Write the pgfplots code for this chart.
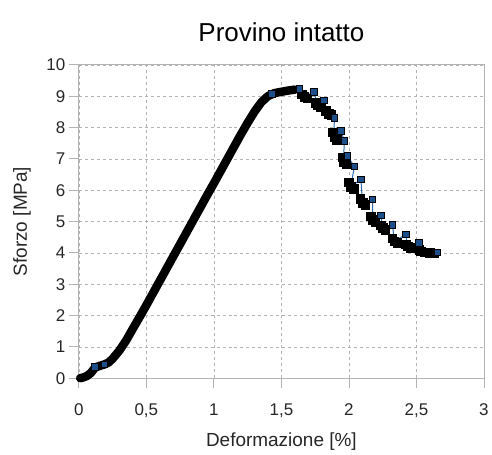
\documentclass[border=0pt]{standalone}
\usepackage{fontspec}
\setmainfont{Liberation Sans}
\usepackage{pgfplots}
\pgfplotsset{compat=1.18}
\definecolor{gridgray}{HTML}{B3B3B3}
\definecolor{serblue}{HTML}{1C4F8A}
\definecolor{lineblue}{HTML}{2A6AB0}
\begin{document}
\begin{tikzpicture}
\begin{axis}[
  scale only axis,
  width=406pt, height=314pt,
  xmin=0, xmax=3, ymin=0, ymax=10,
  xtick={0,0.5,...,3}, ytick={0,1,...,10},
  xticklabels={0,{0,5},1,{1,5},2,{2,5},3},
  /pgf/number format/assume math mode=true,
  tick align=outside, tick pos=left,
  major tick length=10pt,
  every tick/.style={gridgray, line width=0.8pt},
  axis line style={gridgray, line width=0.8pt},
  grid=major,
  major grid style={gridgray, dashed, line width=0.6pt, dash pattern=on 3pt off 3pt},
  tick label style={font=\fontsize{17}{17}\selectfont, text=black!85},
  xticklabel style={anchor=north, yshift=-12pt},
  yticklabel style={anchor=east, xshift=0pt},
  title={Provino intatto},
  title style={font=\fontsize{26}{26}\selectfont, at={(axis description cs:0.5,1.086)}, anchor=center},
  xlabel={Deformazione [\%]},
  ylabel={Sforzo [MPa]},
  xlabel style={font=\fontsize{19}{19}\selectfont, text=black!85, at={(axis description cs:0.5,-0.2038)}, anchor=center},
  ylabel style={font=\fontsize{19}{19}\selectfont, text=black!85, at={(axis description cs:-0.1404,0.5)}, anchor=center},
  clip=false,
]
% thin series line
\addplot[lineblue, line width=1pt, mark=none] coordinates {
(0.00,0.00) (0.03,0.02) (0.06,0.07) (0.09,0.17) (0.12,0.36) (0.16,0.40) (0.19,0.44) (0.22,0.50)
(0.25,0.62) (0.30,0.88) (0.35,1.20) (0.40,1.58) (0.45,1.95) (0.50,2.33) (0.55,2.72) (0.60,3.11)
(0.65,3.50) (0.70,3.89) (0.75,4.28) (0.80,4.67) (0.85,5.06) (0.90,5.45) (0.95,5.84) (1.00,6.22)
(1.05,6.61) (1.10,7.00) (1.15,7.39) (1.20,7.78) (1.25,8.15) (1.30,8.50) (1.35,8.80) (1.40,9.00)
(1.45,9.10) (1.50,9.14) (1.55,9.18)
(1.60,9.21) (1.633,9.23) (1.67,8.98) (1.739,9.14) (1.77,8.72) (1.813,8.86)
(1.85,8.45) (1.892,8.31) (1.89,7.70) (1.942,7.89) (1.966,7.57) (1.96,6.90) (1.99,7.09) (2.04,6.76)
(2.015,6.12) (2.089,6.34) (2.10,5.60) (2.175,5.70) (2.175,5.06) (2.237,5.20) (2.25,4.80) (2.323,4.90)
(2.336,4.37) (2.422,4.59) (2.434,4.21) (2.52,4.32) (2.533,4.05) (2.60,4.00) (2.656,4.02)
};
% dense ascending part (overlapping markers appear black)
\addplot[black, line width=8.5pt, line join=round, line cap=round, mark=none] coordinates {
(0.01,0.00) (0.03,0.02) (0.06,0.07) (0.09,0.17) (0.12,0.34) (0.16,0.40) (0.19,0.44) (0.22,0.50)
(0.25,0.62) (0.30,0.88) (0.35,1.20) (0.40,1.58) (0.45,1.95) (0.50,2.33) (0.55,2.72) (0.60,3.11)
(0.65,3.50) (0.70,3.89) (0.75,4.28) (0.80,4.67) (0.85,5.06) (0.90,5.45) (0.95,5.84) (1.00,6.22)
(1.05,6.61) (1.10,7.00) (1.15,7.39) (1.20,7.78) (1.25,8.15) (1.30,8.50) (1.35,8.80) (1.40,9.00)
(1.45,9.10) (1.50,9.14) (1.55,9.18) (1.60,9.21)
};
% clusters of overlapping markers in the softening branch
\addplot[only marks, mark=square*, mark size=4.3pt, mark options={fill=black, draw=black}] coordinates {
(1.65,9.06) (1.67,8.98) (1.69,8.93)
(1.75,8.80) (1.77,8.72) (1.79,8.67)
(1.83,8.53) (1.85,8.45) (1.87,8.40)
(1.88,7.85) (1.89,7.70) (1.91,7.62)
(1.95,7.05) (1.96,6.90) (1.98,6.84)
(2.00,6.25) (2.015,6.12) (2.035,6.05)
(2.085,5.72) (2.10,5.60) (2.12,5.54)
(2.16,5.17) (2.175,5.06) (2.195,5.00)
(2.235,4.88) (2.25,4.80) (2.27,4.74)
(2.32,4.47) (2.336,4.37) (2.356,4.33)
(2.42,4.27) (2.434,4.21) (2.454,4.17)
(2.52,4.10) (2.533,4.05) (2.56,4.02) (2.60,4.00) (2.63,3.99)
};
% isolated markers
\addplot[only marks, mark=square*, mark size=3.3pt, mark options={fill=serblue, draw=black, line width=0.8pt}] coordinates {
(0.12,0.36) (0.19,0.44) (1.43,9.08) (1.633,9.23) (1.739,9.14) (1.813,8.86) (1.892,8.31) (1.942,7.89)
(1.966,7.57) (1.99,7.09) (2.04,6.76) (2.089,6.34) (2.175,5.70) (2.237,5.20) (2.323,4.90) (2.422,4.59)
(2.52,4.32) (2.656,4.02)
};
\end{axis}
\path ([xshift=-79pt,yshift=-75pt]current axis.south west) rectangle ([xshift=7pt,yshift=65pt]current axis.north east);
\end{tikzpicture}
\end{document}
